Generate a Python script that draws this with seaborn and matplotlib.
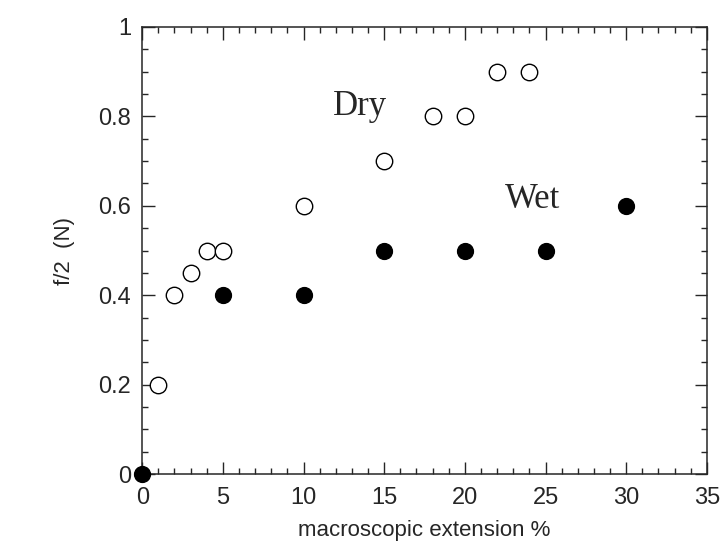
import pandas as pd
import numpy as np
import matplotlib.pyplot as plt
import seaborn as sns
from matplotlib.ticker import MultipleLocator

# data
dry_ext = [1, 2, 3, 4, 5, 10, 15, 18, 20, 22, 24]
dry_force = [0.2, 0.4, 0.45, 0.5, 0.5, 0.6, 0.7, 0.8, 0.8, 0.9, 0.9]
wet_ext = [0, 5, 10, 15, 20, 25, 30]
wet_force = [0.0, 0.4, 0.4, 0.5, 0.5, 0.5, 0.6]

sns.set_style("ticks")
plt.rcParams['font.family'] = ['Liberation Sans', 'DejaVu Sans']

dry = pd.DataFrame({'ext': dry_ext, 'force': dry_force})
wet = pd.DataFrame({'ext': wet_ext, 'force': wet_force})

fig = plt.figure(figsize=(7.22, 5.5), dpi=100)
ax = fig.add_axes([0.197, 0.138, 0.782, 0.813])

sns.scatterplot(data=dry, x='ext', y='force', ax=ax, s=140,
                facecolor='white', edgecolor='black', linewidth=1.0,
                clip_on=False, zorder=3)
sns.scatterplot(data=wet, x='ext', y='force', ax=ax, s=130,
                color='black', edgecolor='black', linewidth=1.0,
                clip_on=False, zorder=3)

# curve labels
ax.text(13.5, 0.803, 'Dry', family='Liberation Serif', fontsize=25,
        ha='center', va='baseline')
ax.text(24.2, 0.595, 'Wet', family='Liberation Serif', fontsize=25,
        ha='center', va='baseline')

ax.set_xlim(0, 35)
ax.set_ylim(0, 1)
ax.xaxis.set_major_locator(MultipleLocator(5))
ax.xaxis.set_minor_locator(MultipleLocator(1))
ax.yaxis.set_minor_locator(MultipleLocator(0.05))
ax.set_yticks([0, 0.2, 0.4, 0.6, 0.8, 1.0])
ax.set_yticklabels(['0', '0.2', '0.4', '0.6', '0.8', '1'])
ax.tick_params(which='both', direction='in', top=True, right=True,
               labelsize=17, width=1)
ax.tick_params(which='major', length=9)
ax.tick_params(which='minor', length=4)
ax.tick_params(axis='x', which='major', pad=9)
ax.tick_params(axis='y', which='major', pad=8)
for sp in ax.spines.values():
    sp.set_linewidth(1.1)

ax.set_xlabel('macroscopic extension %', fontsize=16, labelpad=8)
ax.set_ylabel('f/2  (N)', fontsize=16, labelpad=17)

fig.savefig('out.png', dpi=100)
